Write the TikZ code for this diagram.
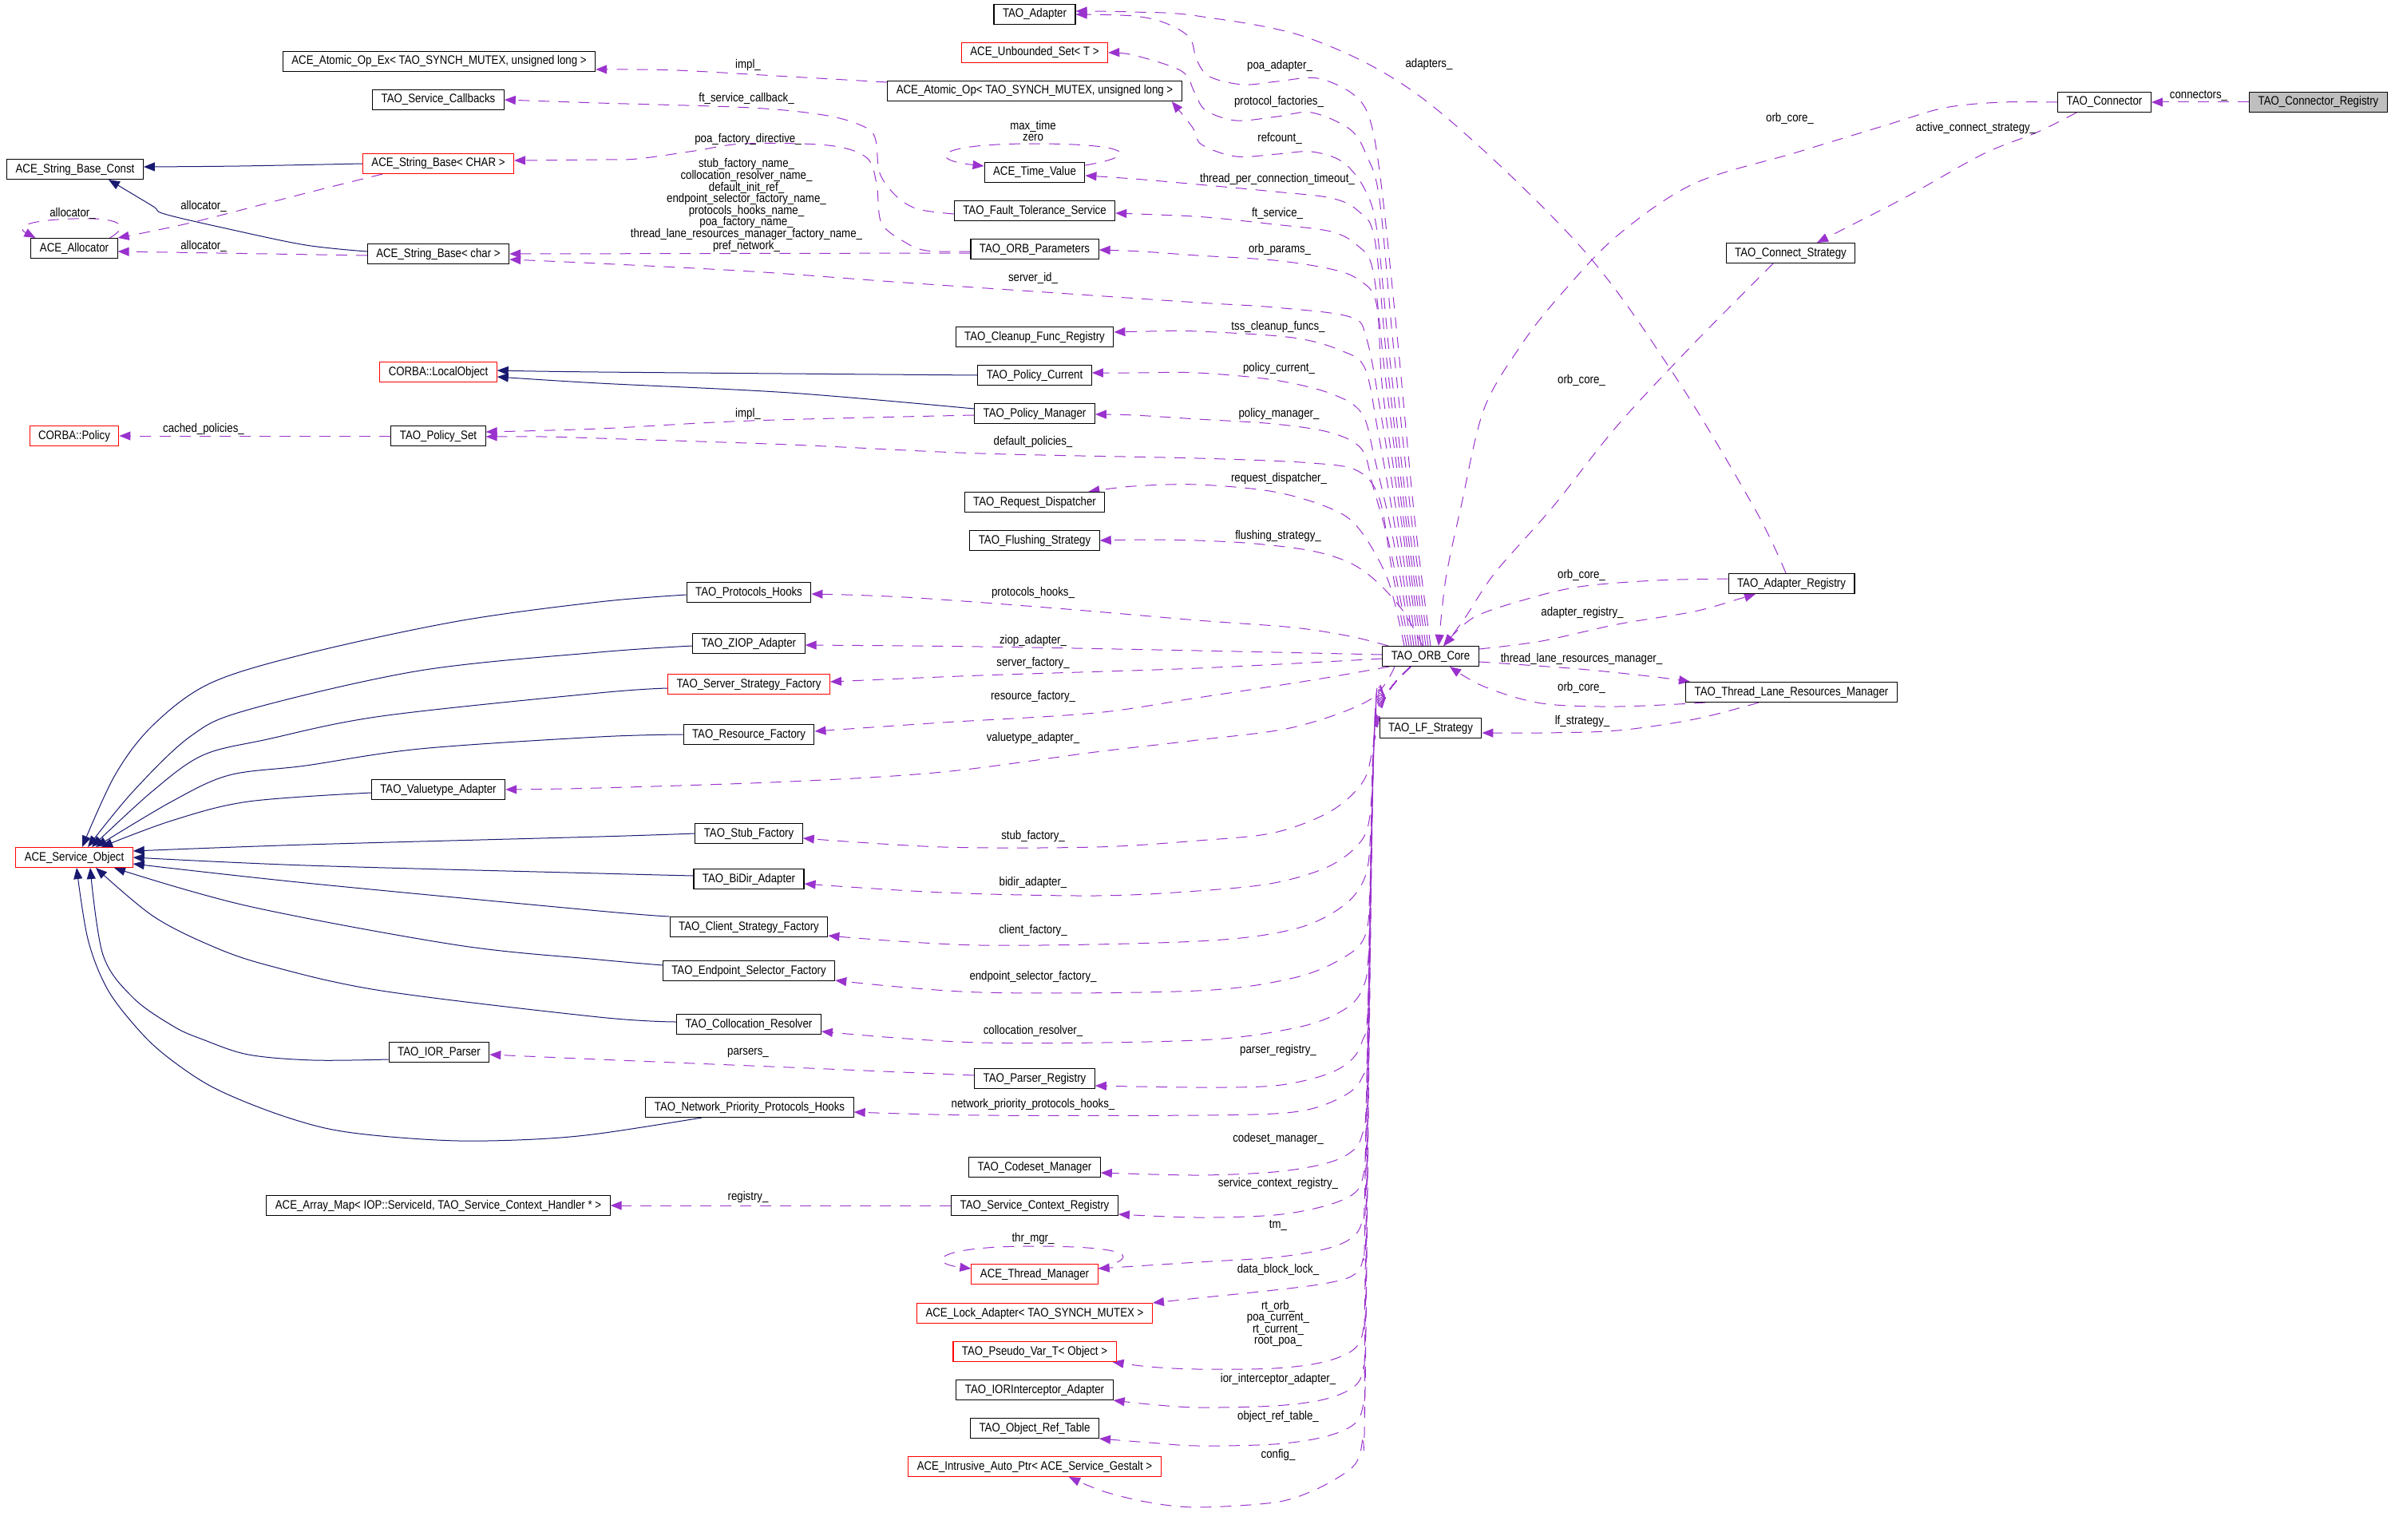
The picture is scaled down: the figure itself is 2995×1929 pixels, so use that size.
\documentclass[tikz,border=0pt]{standalone}
\usepackage{fontspec}
\setmainfont{Liberation Sans}[FakeStretch=0.86]
\usetikzlibrary{arrows.meta}
\definecolor{depc}{HTML}{9A32CD}
\definecolor{inhc}{HTML}{191970}
\definecolor{grc}{HTML}{BFBFBF}
\pgfdeclarelayer{bg}
\pgfsetlayers{bg,main}
\tikzset{
  cls/.style={draw=black, line width=1.1pt, minimum height=25pt, inner xsep=11pt, inner ysep=0pt, text height=11pt, text depth=3pt, fill=white},
  redcls/.style={cls, draw=red},
  graycls/.style={cls, fill=grc},
  dep/.style={draw=depc, dash pattern=on 14pt off 11pt, line width=1pt, -{Triangle[length=14pt,width=11pt]}},
  inh/.style={draw=inhc, line width=1pt, -{Triangle[length=14pt,width=11pt]}},
  lbl/.style={inner sep=0pt, align=center}
}
\newcommand{\dedge}[1]{\draw[dep] plot[smooth,tension=0.55] coordinates {#1};}
\newcommand{\iedge}[1]{\draw[inh] plot[smooth,tension=0.55] coordinates {#1};}
\begin{document}
\begin{tikzpicture}[x=1pt,y=-1pt,font=\fontsize{15.4pt}{14.6pt}\selectfont]
\useasboundingbox (0,0) rectangle (2995,1929);

% ---------- nodes ----------
\node[cls] (atomicopex) at (550,77) {ACE\_Atomic\_Op\_Ex< TAO\_SYNCH\_MUTEX, unsigned long >};
\node[cls] (svccb) at (549,125) {TAO\_Service\_Callbacks};
\node[cls] (sbconst) at (94,212) {ACE\_String\_Base\_Const};
\node[redcls] (sbCHAR) at (549,205) {ACE\_String\_Base< CHAR >};
\node[cls] (alloc) at (93,311) {ACE\_Allocator};
\node[cls] (sbchar) at (549,318) {ACE\_String\_Base< char >};
\node[redcls] (localobj) at (549,466) {CORBA::LocalObject};
\node[redcls] (policy) at (93,546) {CORBA::Policy};
\node[cls] (policyset) at (549,546) {TAO\_Policy\_Set};
\node[cls] (adapter) at (1296,18) {TAO\_Adapter};
\node[redcls] (unbset) at (1296,66) {ACE\_Unbounded\_Set< T >};
\node[cls] (atomicop) at (1296,114) {ACE\_Atomic\_Op< TAO\_SYNCH\_MUTEX, unsigned long >};
\node[cls] (timeval) at (1296,216) {ACE\_Time\_Value};
\node[cls] (ftsvc) at (1296,264) {TAO\_Fault\_Tolerance\_Service};
\node[cls] (orbparams) at (1296,312) {TAO\_ORB\_Parameters};
\node[cls] (cleanup) at (1296,422) {TAO\_Cleanup\_Func\_Registry};
\node[cls] (polcur) at (1296,470) {TAO\_Policy\_Current};
\node[cls] (polmgr) at (1296,518) {TAO\_Policy\_Manager};
\node[cls] (reqdisp) at (1296,629) {TAO\_Request\_Dispatcher};
\node[cls] (flush) at (1296,677) {TAO\_Flushing\_Strategy};
\node[cls] (connstrat) at (2243,317) {TAO\_Connect\_Strategy};
\node[cls] (connector) at (2636,128) {TAO\_Connector};
\node[graycls] (registry) at (2904,128) {TAO\_Connector\_Registry};
\node[redcls] (svcobj) at (93,1074) {ACE\_Service\_Object};
\node[cls] (valuetype) at (549,989) {TAO\_Valuetype\_Adapter};
\node[cls] (protohooks) at (938,742) {TAO\_Protocols\_Hooks};
\node[cls] (ziop) at (938,806) {TAO\_ZIOP\_Adapter};
\node[redcls] (serverfac) at (938,857) {TAO\_Server\_Strategy\_Factory};
\node[cls] (resfac) at (938,920) {TAO\_Resource\_Factory};
\node[cls] (stubfac) at (938,1044) {TAO\_Stub\_Factory};
\node[cls] (bidir) at (938,1101) {TAO\_BiDir\_Adapter};
\node[cls] (clientfac) at (938,1161) {TAO\_Client\_Strategy\_Factory};
\node[cls] (endpointfac) at (938,1216) {TAO\_Endpoint\_Selector\_Factory};
\node[cls] (colloc) at (938,1283) {TAO\_Collocation\_Resolver};
\node[cls] (orbcore) at (1792,822) {TAO\_ORB\_Core};
\node[cls] (adapterreg) at (2244,731) {TAO\_Adapter\_Registry};
\node[cls] (tlrm) at (2244,867) {TAO\_Thread\_Lane\_Resources\_Manager};
\node[cls] (lf) at (1792,912) {TAO\_LF\_Strategy};
\node[cls] (iorparser) at (550,1318) {TAO\_IOR\_Parser};
\node[cls] (arraymap) at (549,1510) {ACE\_Array\_Map< IOP::ServiceId, TAO\_Service\_Context\_Handler * >};
\node[cls] (parserreg) at (1296,1351) {TAO\_Parser\_Registry};
\node[cls] (netprio) at (939,1387) {TAO\_Network\_Priority\_Protocols\_Hooks};
\node[cls] (codeset) at (1296,1462) {TAO\_Codeset\_Manager};
\node[cls] (svcctx) at (1296,1510) {TAO\_Service\_Context\_Registry};
\node[redcls] (thrmgr) at (1296,1596) {ACE\_Thread\_Manager};
\node[redcls] (lockadapter) at (1296,1645) {ACE\_Lock\_Adapter< TAO\_SYNCH\_MUTEX >};
\node[redcls] (pseudovar) at (1296,1693) {TAO\_Pseudo\_Var\_T< Object >};
\node[cls] (iorinterceptor) at (1296,1741) {TAO\_IORInterceptor\_Adapter};
\node[cls] (objreftable) at (1296,1789) {TAO\_Object\_Ref\_Table};
\node[redcls] (intrusive) at (1296,1837) {ACE\_Intrusive\_Auto\_Ptr< ACE\_Service\_Gestalt >};

% ---------- labels ----------
\node[lbl] (l1) at (2754,120) {connectors\_};
\node[lbl] (l2) at (2242,148) {orb\_core\_};
\node[lbl] (l3) at (2475,161) {active\_connect\_strategy\_};
\node[lbl] (l4) at (1981,476) {orb\_core\_};
\node[lbl] (l5) at (1790,81) {adapters\_};
\node[lbl] (l6) at (1981,720) {orb\_core\_};
\node[lbl] (l7) at (1982,768) {adapter\_registry\_};
\node[lbl] (l8) at (1981,826) {thread\_lane\_resources\_manager\_};
\node[lbl] (l9) at (1981,861) {orb\_core\_};
\node[lbl] (l10) at (1982,904) {lf\_strategy\_};
\node[lbl] (l11) at (1603,83) {poa\_adapter\_};
\node[lbl] (l12) at (1602,128) {protocol\_factories\_};
\node[lbl] (l13) at (1603,173) {refcount\_};
\node[lbl] (l14) at (1600,225) {thread\_per\_connection\_timeout\_};
\node[lbl] (l15) at (1600,267) {ft\_service\_};
\node[lbl] (l16) at (1603,313) {orb\_params\_};
\node[lbl] (l17) at (1601,410) {tss\_cleanup\_funcs\_};
\node[lbl] (l18) at (1602,462) {policy\_current\_};
\node[lbl] (l19) at (1602,519) {policy\_manager\_};
\node[lbl] (l20) at (1602,600) {request\_dispatcher\_};
\node[lbl] (l21) at (1601,672) {flushing\_strategy\_};
\node[lbl] (l22) at (937,82) {impl\_};
\node[lbl] (l23) at (935,123) {ft\_service\_callback\_};
\node[lbl] (l24) at (937,175) {poa\_factory\_directive\_};
\node[lbl] (l25) at (935,257) {stub\_factory\_name\_\\collocation\_resolver\_name\_\\default\_init\_ref\_\\endpoint\_selector\_factory\_name\_\\protocols\_hooks\_name\_\\poa\_factory\_name\_\\thread\_lane\_resources\_manager\_factory\_name\_\\pref\_network\_};
\node[lbl] (l26) at (1294,164) {max\_time\\zero};
\node[lbl] (l27) at (1294,348) {server\_id\_};
\node[lbl] (l28) at (937,519) {impl\_};
\node[lbl] (l29) at (1294,554) {default\_policies\_};
\node[lbl] (l30) at (255,538) {cached\_policies\_};
\node[lbl] (l31) at (91,267) {allocator\_};
\node[lbl] (l32) at (255,258) {allocator\_};
\node[lbl] (l33) at (255,308) {allocator\_};
\node[lbl] (l34) at (1294,743) {protocols\_hooks\_};
\node[lbl] (l35) at (1294,803) {ziop\_adapter\_};
\node[lbl] (l36) at (1294,831) {server\_factory\_};
\node[lbl] (l37) at (1294,873) {resource\_factory\_};
\node[lbl] (l38) at (1294,925) {valuetype\_adapter\_};
\node[lbl] (l39) at (1294,1048) {stub\_factory\_};
\node[lbl] (l40) at (1294,1106) {bidir\_adapter\_};
\node[lbl] (l41) at (1294,1166) {client\_factory\_};
\node[lbl] (l42) at (1294,1224) {endpoint\_selector\_factory\_};
\node[lbl] (l43) at (1294,1291) {collocation\_resolver\_};
\node[lbl] (l44) at (937,1319) {parsers\_};
\node[lbl] (l45) at (1294,1384) {network\_priority\_protocols\_hooks\_};
\node[lbl] (l46) at (937,1500) {registry\_};
\node[lbl] (l47) at (1294,1552) {thr\_mgr\_};
\node[lbl] (l48) at (1601,1316) {parser\_registry\_};
\node[lbl] (l49) at (1601,1427) {codeset\_manager\_};
\node[lbl] (l50) at (1601,1483) {service\_context\_registry\_};
\node[lbl] (l51) at (1601,1535) {tm\_};
\node[lbl] (l52) at (1601,1590) {data\_block\_lock\_};
\node[lbl] (l53) at (1601,1658) {rt\_orb\_\\poa\_current\_\\rt\_current\_\\root\_poa\_};
\node[lbl] (l54) at (1601,1727) {ior\_interceptor\_adapter\_};
\node[lbl] (l55) at (1601,1774) {object\_ref\_table\_};
\node[lbl] (l56) at (1601,1822) {config\_};

\begin{pgfonlayer}{bg}
% ---------- right side ----------
\draw[dep] (registry.west) -- (connector.east);
\dedge{(connector.west) (2508,128) (2436,135) (2365,156) (2250,191) (2122,230) (2026,295) (1955,369) (1907,430) (1859,512) (1830,635) (1811,725) ([xshift=10pt]orbcore.north)}
\dedge{([xshift=-35pt]connector.south) (2551,166) (2484,193) (2389,246) (2317,283) ([xshift=33pt]connstrat.north)}
\dedge{([xshift=-22pt]connstrat.south) (2122,430) (2026,533) (1945,635) (1873,717) (1835,774) ([xshift=17pt]orbcore.north)}
\dedge{([xshift=-7pt]adapterreg.north) (2199,639) (2098,471) (1978,307) (1787,127) (1643,49) (1500,20) (1420,15) ([yshift=4pt]adapter.east)}
\dedge{([yshift=6pt]adapterreg.west) (2074,727) (1978,735) (1907,752) (1845,774) ([xshift=16pt]orbcore.north)}
\dedge{([yshift=9pt]orbcore.east) (1931,803) (2026,782) (2122,766) (2179,750) ([xshift=-45pt]adapterreg.south)}
\dedge{([yshift=-7pt]orbcore.east) (1978,838) (2074,848) ([xshift=-127pt]tlrm.north)}
\dedge{([xshift=-108pt]tlrm.south) (2026,885) (1931,881) (1859,860) ([xshift=24pt]orbcore.south)}
\dedge{([xshift=-41pt]tlrm.south) (2122,901) (2026,915) (1931,918) ([yshift=-6pt]lf.east)}

% ---------- upper edges from ORB core ----------
\dedge{(orbcore.north) (1772,650) (1750,420) (1730,230) (1716,150) (1695,118) (1650,98) (1600,102) (1557,106) (1515,96) (1499,75) (1490,47) (1460,29) (1420,20) (adapter.east)}
\dedge{([xshift=-3pt]orbcore.north) (1768,650) (1745,430) (1728,250) (1712,195) (1691,162) (1643,141) (1600,146) (1548,151) (1510,138) (1496,115) (1480,89) (1420,69) (unbset.east)}
\dedge{([xshift=-6pt]orbcore.north) (1764,650) (1741,450) (1725,290) (1710,238) (1682,203) (1643,190) (1600,193) (1548,196) (1505,181) (1494,160) ([xshift=-13pt]atomicop.south east)}
\dedge{([xshift=-9pt]orbcore.north) (1761,650) (1738,460) (1722,300) (1701,264) (1667,248) (1596,240) (1500,231) (1420,224) ([yshift=-4pt]timeval.east)}
\dedge{([xshift=-12pt]orbcore.north) (1758,650) (1735,470) (1720,340) (1701,308) (1667,290) (1596,281) (1510,272) (1450,269) ([yshift=-3pt]ftsvc.east)}
\dedge{([xshift=-15pt]orbcore.north) (1755,650) (1732,490) (1724,380) (1701,350) (1667,337) (1596,326) (1500,320) (1430,315) ([yshift=-1pt]orbparams.east)}
\dedge{([xshift=-18pt]orbcore.north) (1752,660) (1730,520) (1712,425) (1691,397) (1596,385) (1500,379) (1324,367) (1133,354) (941,340) (750,330) ([yshift=-7pt]sbchar.east)}
\dedge{([xshift=-21pt]orbcore.north) (1749,670) (1726,540) (1710,462) (1682,440) (1620,423) (1500,415) (1440,415) ([yshift=6pt]cleanup.east)}
\dedge{([xshift=-24pt]orbcore.north) (1746,680) (1722,575) (1706,518) (1667,493) (1596,476) (1500,467) (1420,467) ([yshift=3pt]polcur.east)}
\dedge{([xshift=-27pt]orbcore.north) (1742,690) (1720,610) (1706,563) (1667,542) (1596,531) (1500,525) (1420,520) ([yshift=-1pt]polmgr.east)}
\dedge{([xshift=-30pt]orbcore.north) (1743,710) (1728,625) (1701,590) (1643,580) (1500,574) (1228,568) (989,557) (750,549) (680,547) ([yshift=-1pt]policyset.east)}
\dedge{([xshift=-33pt]orbcore.north) (1738,725) (1702,662) (1667,637) (1596,616) (1500,607) (1420,609) ([xshift=-21pt]reqdisp.north east)}
\dedge{([xshift=-10pt]orbcore.north) (1758,766) (1725,729) (1691,705) (1643,690) (1572,681) (1500,677) (1430,676) (flush.east)}

% ---------- left side edges from ORB core ----------
\dedge{([xshift=-53pt]orbcore.north) (1691,797) (1620,786) (1500,777) (1324,762) (1133,748) ([yshift=-2pt]protohooks.east)}
\dedge{([yshift=2pt]orbcore.west) (1500,815) (1228,810) ([yshift=-2pt]ziop.east)}
\dedge{([yshift=-3pt]orbcore.west) (1500,837) (1228,846) ([yshift=3pt]serverfac.east)}
\dedge{([xshift=-52pt]orbcore.south) (1643,852) (1500,874) (1372,893) (1181,905) ([yshift=4pt]resfac.east)}
\dedge{([xshift=-45pt]orbcore.south) (1715,877) (1620,911) (1500,927) (1372,942) (1181,967) (989,979) (750,987) (valuetype.east)}

% ---------- lower edges from ORB core ----------
\dedge{([xshift=-25pt]orbcore.south) (1737,870) (1721,930) (1708,978) (1667,1016) (1596,1043) (1500,1053) (1372,1061) (1181,1061) ([yshift=-6pt]stubfac.east)}
\dedge{([xshift=-25pt]orbcore.south) (1737,870) (1721,930) (1718,1000) (1708,1049) (1667,1084) (1596,1106) (1500,1116) (1372,1122) (1181,1118) ([yshift=-6pt]bidir.east)}
\dedge{([xshift=-25pt]orbcore.south) (1737,870) (1721,930) (1717,1040) (1710,1098) (1682,1135) (1620,1164) (1500,1179) (1228,1184) ([yshift=-11pt]clientfac.east)}
\dedge{([xshift=-25pt]orbcore.south) (1737,870) (1721,930) (1716,1110) (1710,1172) (1682,1200) (1620,1225) (1500,1241) (1228,1243) ([yshift=-12pt]endpointfac.east)}
\dedge{([xshift=-25pt]orbcore.south) (1737,870) (1721,930) (1715,1180) (1706,1240) (1678,1268) (1620,1288) (1500,1303) (1228,1306) ([yshift=-9pt]colloc.east)}
\dedge{([xshift=-25pt]orbcore.south) (1737,870) (1721,930) (1714,1250) (1706,1305) (1690,1330) (1658,1347) (1596,1360) (1500,1362) ([yshift=-9pt]parserreg.east)}
\dedge{([xshift=-25pt]orbcore.south) (1737,870) (1721,930) (1714,1290) (1706,1350) (1677,1376) (1620,1393) (1500,1397) (1228,1397) ([yshift=-6pt]netprio.east)}
\dedge{([xshift=-25pt]orbcore.south) (1737,870) (1721,930) (1712,1360) (1706,1422) (1691,1444) (1658,1458) (1596,1468) (1500,1472) ([yshift=-7pt]codeset.east)}
\dedge{([xshift=-25pt]orbcore.south) (1737,870) (1721,930) (1711,1410) (1708,1470) (1696,1495) (1658,1511) (1596,1522) (1500,1525) ([yshift=-11pt]svcctx.east)}
\dedge{([xshift=-25pt]orbcore.south) (1737,870) (1721,930) (1710,1470) (1706,1530) (1691,1552) (1658,1565) (1596,1575) (1500,1581) ([yshift=7pt]thrmgr.east)}
\dedge{([xshift=-25pt]orbcore.south) (1737,870) (1721,930) (1710,1520) (1707,1578) (1694,1598) (1658,1608) (1596,1616) (1500,1626) (lockadapter.north east)}
\dedge{([xshift=-25pt]orbcore.south) (1737,870) (1721,930) (1710,1600) (1708,1663) (1696,1690) (1658,1706) (1596,1714) (1500,1715) (1440,1712) ([xshift=-5pt]pseudovar.south east)}
\dedge{([xshift=-25pt]orbcore.south) (1737,870) (1721,930) (1710,1650) (1708,1712) (1696,1737) (1658,1753) (1596,1761) (1500,1763) (1440,1759) (iorinterceptor.south east)}
\dedge{([xshift=-25pt]orbcore.south) (1737,870) (1721,930) (1710,1700) (1708,1757) (1696,1784) (1658,1800) (1596,1809) (1500,1811) (1440,1807) (objreftable.south east)}
\dedge{([xshift=-25pt]orbcore.south) (1737,870) (1721,930) (1710,1740) (1707,1800) (1700,1830) (1682,1847) (1643,1868) (1596,1882) (1500,1888) (1440,1882) (1382,1868) ([xshift=43pt]intrusive.south)}

% ---------- left column edges ----------
\dedge{([yshift=11pt]atomicop.west) (989,96) (846,88) ([yshift=-10pt]atomicopex.east)}
\dedge{([yshift=-4pt]ftsvc.west) (1150,262) (1123,246) (1102,217) (1097,176) (1085,160) (1037,145) (941,135) (750,129) (svccb.east)}
\dedge{([yshift=-3pt]orbparams.west) (1161,314) (1133,303) (1104,279) (1098,230) (1085,197) (1037,182) (932,180) (870,189) (798,199) (750,200) ([yshift=4pt]sbCHAR.east)}
\draw[dep] ([yshift=-5pt]orbparams.west) -- (sbchar.east);
\dedge{([yshift=-2pt]polmgr.west) (941,527) (750,537) ([yshift=5pt]policyset.east)}
\draw[dep] (policyset.west) -- (policy.east);
\dedge{([xshift=-70pt]sbCHAR.south) (383,242) (239,279) (alloc.north east)}
\draw[dep] ([yshift=-2pt]sbchar.west) -- ([yshift=-4pt]alloc.east);
\draw[dep] ([xshift=-10pt]alloc.north east) .. controls (165,282) and (150,272) .. (92,274) .. controls (30,276) and (20,285) .. ([xshift=6pt]alloc.north west);
\draw[dep] ([yshift=9pt]timeval.east) .. controls (1430,195) and (1420,180) .. (1294,180) .. controls (1170,180) and (1160,200) .. ([yshift=8pt]timeval.west);
\draw[dep] ([yshift=7pt]thrmgr.east) .. controls (1430,1575) and (1420,1561) .. (1294,1561) .. controls (1170,1561) and (1160,1582) .. ([yshift=7pt]thrmgr.west);
\draw[dep] (svcctx.west) -- (arraymap.east);
\dedge{([yshift=4pt]parserreg.west) (1037,1339) (893,1333) (750,1327) ([yshift=-3pt]iorparser.east)}

% ---------- inheritance ----------
\iedge{(polcur.west) (750,466) ([yshift=2pt]localobj.east)}
\iedge{([yshift=6pt]polmgr.west) (989,492) (750,480) ([yshift=-6pt]localobj.east)}
\iedge{(sbCHAR.west) (300,208) ([yshift=3pt]sbconst.east)}
\iedge{([yshift=3pt]sbchar.west) (383,307) (287,287) (206,268) (191,258) ([xshift=42pt]sbconst.south)}
\iedge{([yshift=-3pt]protohooks.west) (750,754) (574,778) (383,819) (263,856) (191,909) (144,971) ([xshift=10pt]svcobj.north)}
\iedge{([yshift=-3pt]ziop.west) (750,817) (526,840) (311,889) (239,922) (167,991) ([xshift=17pt]svcobj.north)}
\iedge{([yshift=-5pt]serverfac.west) (750,868) (478,897) (335,926) (254,946) (191,991) ([xshift=22pt]svcobj.north)}
\iedge{(resfac.west) (750,923) (526,938) (383,959) (287,971) (215,1004) ([xshift=27pt]svcobj.north)}
\iedge{([yshift=-4pt]valuetype.west) (311,1004) (215,1028) ([xshift=34pt]svcobj.north)}
\iedge{(stubfac.west) (750,1048) (383,1058) ([yshift=8pt]svcobj.east)}
\iedge{([yshift=4pt]bidir.west) (750,1094) (383,1084) (svcobj.east)}
\iedge{([yshift=13pt]clientfac.west) (750,1141) (383,1106) ([yshift=-8pt]svcobj.east)}
\iedge{([yshift=7pt]endpointfac.west) (750,1202) (574,1184) (311,1135) ([xshift=50pt]svcobj.south)}
\iedge{([yshift=3pt]colloc.west) (750,1274) (478,1241) (335,1209) (263,1184) (191,1147) ([xshift=27pt]svcobj.south)}
\iedge{([yshift=-9pt]iorparser.west) (392,1328) (311,1321) (254,1302) (218,1286) (167,1250) (129,1196) ([xshift=20pt]svcobj.south)}
\iedge{([xshift=-60pt]netprio.south) (750,1420) (670,1427) (574,1429) (478,1423) (407,1413) (335,1391) (263,1360) (206,1321) (170,1286) (134,1238) (110,1176) ([xshift=3pt]svcobj.south)}
\end{pgfonlayer}
\end{tikzpicture}
\end{document}
